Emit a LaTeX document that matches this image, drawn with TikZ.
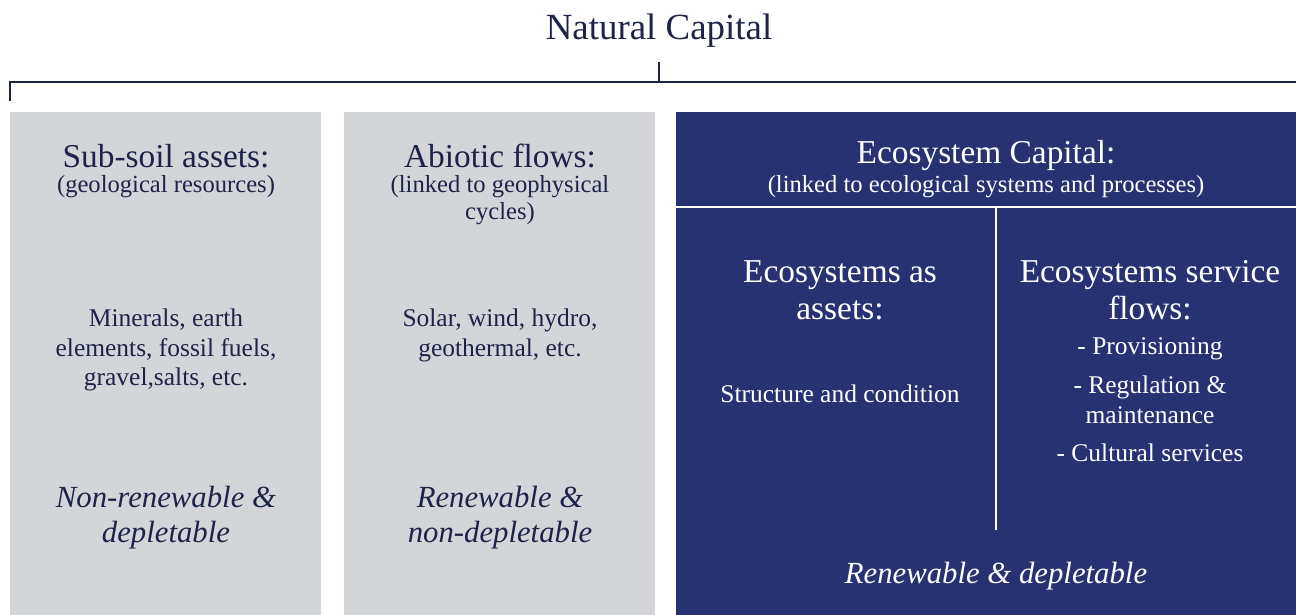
\documentclass[tikz,border=0pt]{standalone}
\usepackage{fontspec}
\setmainfont{Liberation Serif}
\usetikzlibrary{positioning,calc}
\definecolor{ink}{HTML}{1E2448}
\definecolor{stone}{HTML}{D4D5D9}
\definecolor{navy}{HTML}{283272}
\tikzset{panel/.style={fill=stone},
  ecopanel/.style={fill=navy},
  bracket/.style={draw=ink,line width=1.2pt},
  divider/.style={draw=white,line width=1.2pt},
  title/.style={text=ink,font=\fontsize{21}{24}\selectfont},
  head/.style={align=center,font=\fontsize{19}{21}\selectfont},
  sub/.style={align=center,font=\fontsize{14}{15.5}\selectfont},
  body/.style={align=center,font=\fontsize{14.5}{17}\selectfont},
  verdict/.style={align=center,font=\fontsize{17.5}{20}\selectfont\itshape},
  dark/.style={text=ink},light/.style={text=white}}

\begin{document}
\begin{tikzpicture}[x=0.02cm,y=-0.02cm]
\useasboundingbox (0,0) rectangle (1296,615);
\fill[panel] (10,112) rectangle (321,615);
\fill[panel] (344,112) rectangle (655,615);
\fill[ecopanel] (676,112) rectangle (1296,615);

\node[title] (nc) at (659,31) {Natural Capital};
\coordinate (tick) at (659,62);
\coordinate (barL) at (10,82);
\coordinate (barR) at (1296,82);
\coordinate (foot) at (10,101);
\draw[bracket] (tick) -- (tick |- barL);
\draw[bracket] (foot) -- (barL) -- (barR);

\node[head,dark] (subsoil) at (166,156) {Sub-soil assets:};
\node[sub,dark] (geo) at (166,187) {(geological resources)};
\node[body,dark] (minerals) at (166,350) {Minerals, earth\\elements, fossil fuels,\\gravel,salts, etc.};
\node[verdict,dark] (nonren) at (166,518) {Non-renewable \&\\depletable};

\node[head,dark] (abiotic) at (500,156) {Abiotic flows:};
\node[sub,dark] (geophys) at (500,200) {(linked to geophysical\\cycles)};
\node[body,dark] (solar) at (500,335) {Solar, wind, hydro,\\geothermal, etc.};
\node[verdict,dark] (renew) at (500,518) {Renewable \&\\non-depletable};

\node[head,light] (ecocap) at (986,156) {Ecosystem Capital:};
\node[sub,light] (ecolink) at (986,187) {(linked to ecological systems and processes)};
\coordinate (splitL) at (676,207);
\coordinate (splitR) at (1296,207);
\coordinate (midTop) at (996,207);
\coordinate (midBot) at (996,530);
\draw[divider] (splitL) -- (splitR);
\draw[divider] (midTop) -- (midBot);

\node[head,light] (assets) at (840,290) {Ecosystems as\\assets:};
\node[body,light] (structure) at (840,394) {Structure and condition};
\node[head,light] (service) at (1150,290) {Ecosystems service\\flows:};
\node[body,light] (prov) at (1150,349) {- Provisioning};
\node[body,light] (regul) at (1150,400) {- Regulation \&\\maintenance};
\node[body,light] (cult) at (1150,453) {- Cultural services};
\node[verdict,light] (renewdep) at (996,576) {Renewable \& depletable};
\end{tikzpicture}
\end{document}
